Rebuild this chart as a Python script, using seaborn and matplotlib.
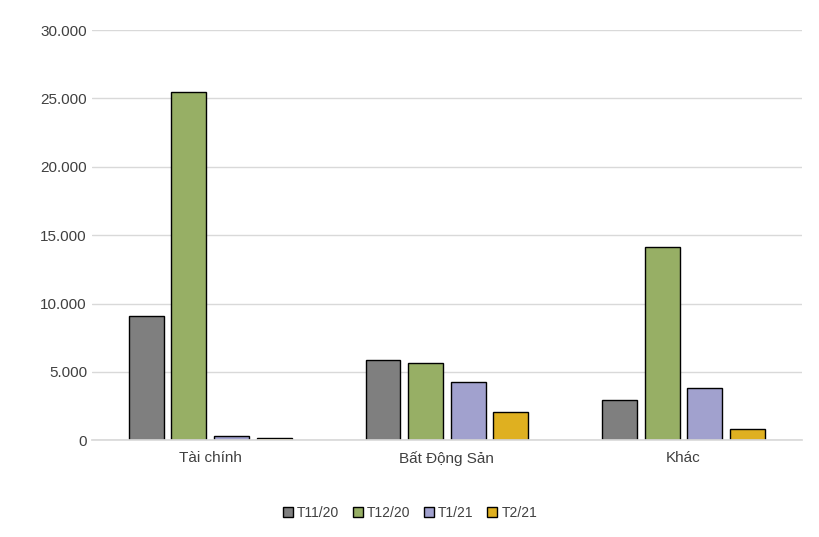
import matplotlib
matplotlib.use("Agg")
import matplotlib.pyplot as plt
import seaborn as sns
import pandas as pd
from matplotlib.ticker import FuncFormatter

categories = ["Tài chính", "Bất Động Sản", "Khác"]
series = ["T11/20", "T12/20", "T1/21", "T2/21"]
t11_20 = [9100, 5850, 2950]
t12_20 = [25500, 5650, 14150]
t1_21 = [300, 4300, 3800]
t2_21 = [200, 2050, 800]
colors = ["#7F7F7F", "#9BBB59", "#9999D6", "#FFC000"]

rows = []
for s, vals in zip(series, [t11_20, t12_20, t1_21, t2_21]):
    for c, v in zip(categories, vals):
        rows.append({"cat": c, "series": s, "value": v})
df = pd.DataFrame(rows)

sns.set_theme(style="white")
plt.rcParams["font.family"] = ["Liberation Sans", "DejaVu Sans"]
fig = plt.figure(figsize=(8.2, 5.37), dpi=100)
ax = fig.add_axes([0.112, 0.18, 0.866, 0.764])
sns.barplot(data=df, x="cat", y="value", hue="series", palette=colors,
            edgecolor="black", linewidth=1, width=0.72, gap=0.18, ax=ax, legend=True)
ax.set_ylim(0, 30000)
ax.set_yticks(range(0, 30001, 5000))
ax.yaxis.set_major_formatter(FuncFormatter(lambda v, p: f"{int(v):,}".replace(",", ".")))
ax.grid(axis="y", color="#D9D9D9", linewidth=1)
ax.set_axisbelow(True)
for s in ["top", "right", "left"]:
    ax.spines[s].set_visible(False)
ax.spines["bottom"].set_color("#D9D9D9")
ax.set_xlabel("")
ax.set_ylabel("")
ax.tick_params(axis="both", labelsize=11, colors="#404040", length=0)
ax.tick_params(axis="x", pad=8)
h, l = ax.get_legend_handles_labels()
ax.legend_.remove()
fig.legend(h, l, loc="center", bbox_to_anchor=(0.5, 0.045), ncol=4, frameon=False,
           fontsize=10, handlelength=0.7, handleheight=0.7, columnspacing=1.0, handletextpad=0.3,
           labelcolor="#404040")
fig.savefig("out.png", dpi=100)
